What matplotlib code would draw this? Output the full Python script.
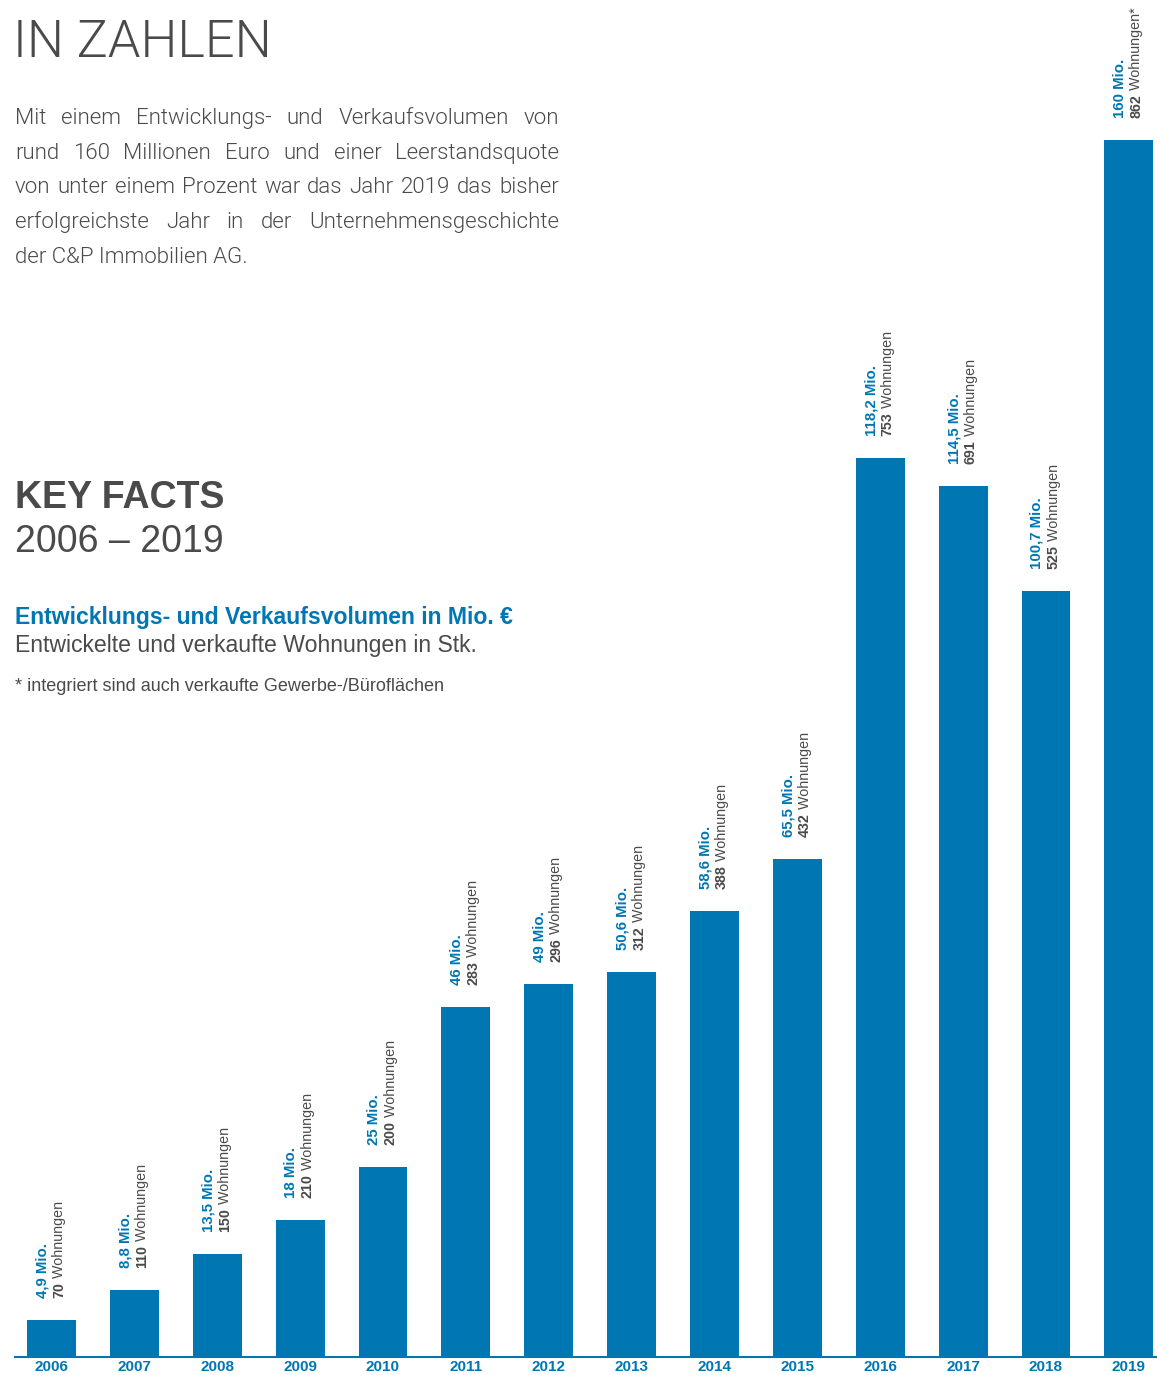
import matplotlib
matplotlib.use("Agg")
import matplotlib.pyplot as plt

plt.rcParams['font.family'] = ['Liberation Sans', 'DejaVu Sans']

years = ["2006", "2007", "2008", "2009", "2010", "2011", "2012",
         "2013", "2014", "2015", "2016", "2017", "2018", "2019"]
volume_mio = [4.9, 8.8, 13.5, 18, 25, 46, 49, 50.6, 58.6, 65.5, 118.2, 114.5, 100.7, 160]
flats = [70, 110, 150, 210, 200, 283, 296, 312, 388, 432, 753, 691, 525, 862]

intro_lines = [
    "Mit einem Entwicklungs- und Verkaufsvolumen von",
    "rund 160 Millionen Euro und einer Leerstandsquote",
    "von unter einem Prozent war das Jahr 2019 das bisher",
    "erfolgreichste Jahr in der Unternehmensgeschichte",
    "der C&P Immobilien AG.",
]

BLUE = "#0077b3"
GRAY = "#4a4a4a"
W, H = 1157, 1375
LIGHT = ["Roboto", "Liberation Sans"]

fig = plt.figure(figsize=(W / 100, H / 100), dpi=100)


def px(x, y):
    # pixel position (from top-left) -> figure fraction
    return x / W, 1 - y / H


# axes: baseline at y=1357px, left edge at x=15px
ax = fig.add_axes([15 / W, (H - 1357) / H, (W - 15) / W, 1357 / H])
x = list(range(len(years)))
ax.bar(x, volume_mio, width=0.59, color=BLUE)
ax.set_xlim(-0.44, 13.34)
ax.set_ylim(0, 178.4)
for s in ["top", "right", "left"]:
    ax.spines[s].set_visible(False)
ax.spines["bottom"].set_color(BLUE)
ax.spines["bottom"].set_linewidth(1.5)
ax.set_yticks([])
ax.set_xticks(x)
ax.set_xticklabels(years, color=BLUE, fontweight="bold", fontsize=11)
ax.tick_params(axis="x", length=0, pad=2)

for i, (v, n) in enumerate(zip(volume_mio, flats)):
    mio = f"{v:g}".replace(".", ",")
    ax.annotate(f"{mio} Mio.", xy=(i, v), xytext=(-6.5, 16), textcoords="offset points",
                rotation=90, ha="center", va="bottom", color=BLUE,
                fontweight="bold", fontsize=10.8)
    t2 = ax.annotate(f"{n}", xy=(i, v), xytext=(5.5, 16), textcoords="offset points",
                     rotation=90, ha="center", va="bottom", color=GRAY,
                     fontweight="bold", fontsize=10.3)
    suffix = " Wohnungen*" if years[i] == "2019" else " Wohnungen"
    ax.annotate(suffix, xy=(0.5, 1), xycoords=t2, rotation=90, ha="center",
                va="bottom", color=GRAY, fontsize=10.3)

# header texts
fig.text(*px(13, 57), "IN ZAHLEN", fontsize=37.5, color=GRAY, va="baseline",
         family=LIGHT, fontweight=300)

renderer = fig.canvas.get_renderer()
left, right = 15, 559
for k, line in enumerate(intro_lines):
    yb = 124 + k * 34.7
    words = line.split(" ")
    if k == len(intro_lines) - 1:
        fig.text(*px(left, yb), line, fontsize=16, color=GRAY, va="baseline",
                 family=LIGHT, fontweight=300)
        continue
    texts = [fig.text(0, 0, w, fontsize=16, color=GRAY, va="baseline",
                      family=LIGHT, fontweight=300) for w in words]
    widths = [t.get_window_extent(renderer).width for t in texts]
    gap = (right - left - sum(widths)) / (len(words) - 1)
    xpos = left
    for t, w in zip(texts, widths):
        t.set_position(px(xpos, yb))
        xpos += w + gap

fig.text(*px(15, 508), "KEY FACTS", fontsize=27, fontweight="bold", color=GRAY, va="baseline")
fig.text(*px(15, 552), "2006 – 2019", fontsize=27, color=GRAY, va="baseline")
fig.text(*px(15, 624), "Entwicklungs- und Verkaufsvolumen in Mio. €", fontsize=16.6,
         fontweight="bold", color=BLUE, va="baseline")
fig.text(*px(15, 652), "Entwickelte und verkaufte Wohnungen in Stk.", fontsize=16.6,
         color=GRAY, va="baseline")
fig.text(*px(15, 691), "* integriert sind auch verkaufte Gewerbe-/Büroflächen", fontsize=13,
         color=GRAY, va="baseline")

fig.savefig("out.png", dpi=100)
